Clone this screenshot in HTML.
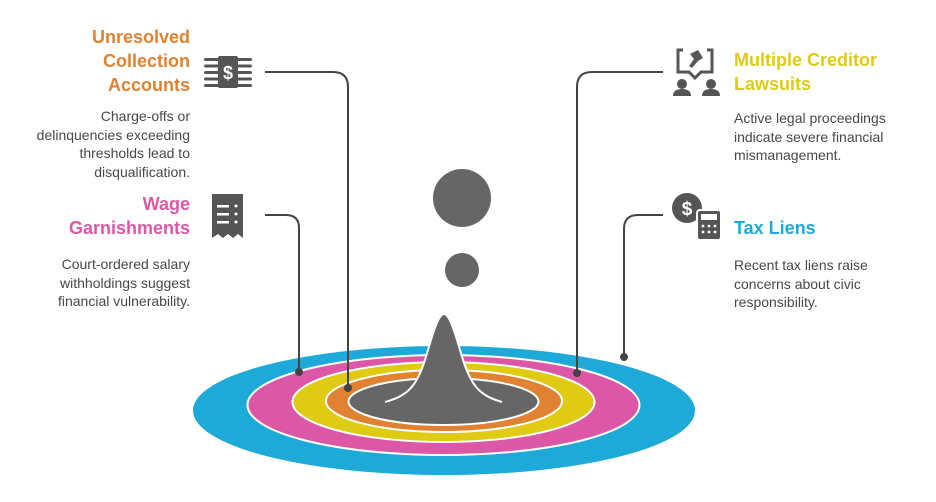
<!DOCTYPE html>
<html><head><meta charset="utf-8"><style>
body{margin:0;width:936px;height:502px;background:#fff;position:relative;overflow:hidden;font-family:"Liberation Sans",Arial,sans-serif}
.t{position:absolute;font-weight:bold;font-size:18px;line-height:24px}
.d{position:absolute;font-size:14px;line-height:18.5px;color:#484848}
.l{right:746px;text-align:right}
.r{left:734px;text-align:left}
</style></head><body>
<svg width="936" height="502" style="position:absolute;left:0;top:0">
<ellipse cx="444" cy="410.5" rx="251" ry="64.5" fill="#1eaad9"/>
<ellipse cx="443.5" cy="405" rx="196" ry="50" fill="#dc58a6" stroke="#fff" stroke-width="2"/>
<ellipse cx="443.5" cy="402" rx="151" ry="40" fill="#dfcb14" stroke="#fff" stroke-width="2"/>
<ellipse cx="444" cy="401" rx="118" ry="31" fill="#e08231" stroke="#fff" stroke-width="2"/>
<ellipse cx="443.5" cy="401.5" rx="95" ry="23.5" fill="#666" stroke="#fff" stroke-width="2"/>
<path d="M385,402 C410,395 418,385 428,350 C436,322 440,314 444,314 C448,314 452,322 460,350 C470,385 478,395 502,402 Z" fill="#666"/>
<path d="M385,402 C410,395 418,385 428,350 C436,322 440,314 444,314 C448,314 452,322 460,350 C470,385 478,395 502,402" fill="none" stroke="#fff" stroke-width="2"/>
<circle cx="462" cy="198" r="29" fill="#666"/>
<circle cx="462" cy="270" r="17" fill="#666"/>
<g fill="none" stroke="#444" stroke-width="2">
<path d="M265,72 H333 Q348,72 348,87 V388"/>
<path d="M265,215 H286 Q299,215 299,228 V372"/>
<path d="M663,72 H592 Q577,72 577,87 V373"/>
<path d="M663,215 H638 Q624,215 624,229 V357"/>
</g>
<g fill="#444"><circle cx="348" cy="388" r="4"/><circle cx="299" cy="372" r="4"/><circle cx="577" cy="373" r="4"/><circle cx="624" cy="357" r="4"/></g>
<!-- money icon -->
<g fill="#555">
<rect x="218" y="56" width="20" height="32" rx="2"/>
<rect x="204" y="58" width="48" height="3" rx="1.5"/><rect x="204" y="64.5" width="48" height="3" rx="1.5"/>
<rect x="204" y="71" width="48" height="3" rx="1.5"/><rect x="204" y="77.5" width="48" height="3" rx="1.5"/>
<rect x="204" y="84" width="48" height="3" rx="1.5"/>
<rect x="220" y="56" width="16" height="32" rx="2"/>
</g>
<text x="228" y="79" font-size="18" font-weight="bold" fill="#fff" text-anchor="middle" font-family="Liberation Sans">$</text>
<!-- receipt icon -->
<path d="M212,194 H243 V238 L238,234 L233,238 L228,234 L223,238 L218,234 L212,238 Z" fill="#555"/>
<g fill="#fff"><rect x="217" y="205" width="12" height="2.5"/><rect x="217" y="213" width="12" height="2.5"/><rect x="217" y="221" width="12" height="2.5"/>
<circle cx="236" cy="206" r="1.5"/><circle cx="236" cy="214" r="1.5"/><circle cx="236" cy="222" r="1.5"/></g>
<!-- lawsuit icon -->
<g fill="none" stroke="#555" stroke-width="3"><path d="M683,50 H678 V72 H689 L695,78 L701,72 H712 V50 H707"/></g>
<path d="M690,54 L698,50 L703,58 L698,61 L692,68 L689,66 L694,59 Z" fill="#555"/>
<g fill="#555"><circle cx="682" cy="84" r="5"/><path d="M673,96 Q673,89 682,89 Q691,89 691,96 Z"/>
<circle cx="711" cy="84" r="5"/><path d="M702,96 Q702,89 711,89 Q720,89 720,96 Z"/></g>
<!-- tax icon -->
<circle cx="687" cy="208" r="15" fill="#555"/>
<text x="687" y="215" font-size="19" font-weight="bold" fill="#fff" text-anchor="middle" font-family="Liberation Sans">$</text>
<rect x="697" y="210" width="24" height="30" rx="3" fill="#555" stroke="#fff" stroke-width="2"/>
<rect x="701" y="214" width="16" height="6" fill="#fff"/>
<g fill="#fff"><circle cx="703" cy="226" r="1.4"/><circle cx="709" cy="226" r="1.4"/><circle cx="715" cy="226" r="1.4"/><circle cx="703" cy="232" r="1.4"/><circle cx="709" cy="232" r="1.4"/><circle cx="715" cy="232" r="1.4"/></g>
</svg>
<div class="t l" style="top:25px;color:#e08231">Unresolved<br>Collection<br>Accounts</div>
<div class="d l" style="top:107px">Charge-offs or<br>delinquencies exceeding<br>thresholds lead to<br>disqualification.</div>
<div class="t l" style="top:192px;color:#dc58a6">Wage<br>Garnishments</div>
<div class="d l" style="top:255px">Court-ordered salary<br>withholdings suggest<br>financial vulnerability.</div>
<div class="t r" style="top:48px;color:#dfcb14">Multiple Creditor<br>Lawsuits</div>
<div class="d r" style="top:109px">Active legal proceedings<br>indicate severe financial<br>mismanagement.</div>
<div class="t r" style="top:216px;color:#1eaad9">Tax Liens</div>
<div class="d r" style="top:256px">Recent tax liens raise<br>concerns about civic<br>responsibility.</div>
</body></html>
